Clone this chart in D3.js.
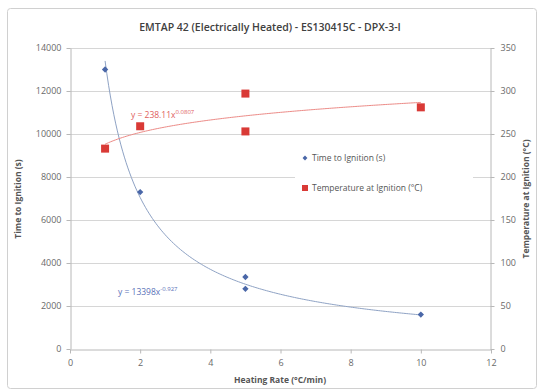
<!DOCTYPE html>
<html>
<head>
<meta charset="utf-8">
<script src="https://cdn.jsdelivr.net/npm/d3@7"></script>
<style>
  html, body { margin: 0; padding: 0; background: #fff; }
  svg { display: block; font-family: "Open Sans", "Liberation Sans", sans-serif; }
</style>
</head>
<body>
<svg id="chart" width="539" height="391"></svg>
<script>
// Heating rate (°C/min) for each test
const heatingRate = [1, 2, 5, 5, 10];
// Time to ignition (s)
const timeToIgnition = [13000, 7300, 3350, 2800, 1600];
// Temperature at ignition (°C)
const tempAtIgnition = [233, 259, 297, 253, 281];

// Power-law trendlines y = a * x^b
const timeFit = { a: 13398, b: -0.927 };
const tempFit = { a: 238.11, b: 0.0807 };

const xTicks = [0, 2, 4, 6, 8, 10, 12];
const leftTicks = [0, 2000, 4000, 6000, 8000, 10000, 12000, 14000];
const rightTicks = [0, 50, 100, 150, 200, 250, 300, 350];

const svg = d3.select("#chart");
const W = 539, H = 391;
const m = { left: 70, right: 48, top: 48, bottom: 42 };

// outer frame
svg.append("rect")
  .attr("x", 7.5).attr("y", 8.5).attr("width", 529).attr("height", 380)
  .attr("rx", 3).attr("fill", "#fff").attr("stroke", "#d0d0d0");

const x = d3.scaleLinear().domain([0, 12]).range([m.left, W - m.right]);
const yL = d3.scaleLinear().domain([0, 14000]).range([H - m.bottom, m.top]);
const yR = d3.scaleLinear().domain([0, 350]).range([H - m.bottom, m.top]);

// horizontal gridlines
svg.append("g").selectAll("line").data(leftTicks.filter(d => d > 0)).join("line")
  .attr("x1", x(0)).attr("x2", x(12))
  .attr("y1", d => yL(d) + 0.5).attr("y2", d => yL(d) + 0.5)
  .attr("stroke", "#d6d6d6");

// axes
const axisColor = "#b8b8b8";
const tickFont = "9px";
const tickColor = "#6a6a6a";
const plain = d3.format("d");

const gx = svg.append("g").attr("transform", `translate(0,${yL(0) + 0.5})`)
  .call(d3.axisBottom(x).tickValues(xTicks).tickFormat(plain).tickSize(4).tickSizeOuter(0));
const gl = svg.append("g").attr("transform", `translate(${x(0) + 0.5},0)`)
  .call(d3.axisLeft(yL).tickValues(leftTicks).tickFormat(plain).tickSize(4).tickSizeOuter(0));
const gr = svg.append("g").attr("transform", `translate(${x(12) - 0.5},0)`)
  .call(d3.axisRight(yR).tickValues(rightTicks).tickFormat(plain).tickSize(4).tickSizeOuter(0));

[gx, gl, gr].forEach(g => {
  g.select(".domain").attr("stroke", axisColor);
  g.selectAll(".tick line").attr("stroke", axisColor);
  g.selectAll(".tick text").attr("fill", tickColor).style("font-size", tickFont)
    .style("font-family", "'Open Sans', 'Liberation Sans', sans-serif");
});
gx.selectAll(".tick text").attr("dy", "1.1em");
gl.selectAll(".tick text").attr("x", -9);
gr.selectAll(".tick text").attr("x", 10);

// trendlines
const curveX = d3.range(1, 10.001, 0.05);
const line = (fit, ys) => d3.line()
  .x(d => x(d))
  .y(d => ys(fit.a * Math.pow(d, fit.b)));

svg.append("path").datum(curveX)
  .attr("d", line(timeFit, yL))
  .attr("fill", "none").attr("stroke", "#8ea2c4").attr("stroke-width", 1);
svg.append("path").datum(curveX)
  .attr("d", line(tempFit, yR))
  .attr("fill", "none").attr("stroke", "#ec8a86").attr("stroke-width", 1);

// legend (white box over gridlines)
const diamond = d3.symbol(d3.symbolSquare, 20)();
const lg = svg.append("g").attr("transform", "translate(295,140)");
lg.append("rect").attr("x", 0).attr("y", 0).attr("width", 178).attr("height", 62).attr("fill", "#fff");
lg.append("path").attr("d", d3.symbol(d3.symbolSquare, 12)())
  .attr("transform", "translate(10,18) rotate(45)").attr("fill", "#4a67a8");
lg.append("text").attr("x", 17).attr("y", 21).text("Time to Ignition (s)")
  .attr("font-size", "8.5px").attr("fill", "#555");
lg.append("rect").attr("x", 7).attr("y", 45).attr("width", 6).attr("height", 6).attr("fill", "#d93a36");
lg.append("text").attr("x", 17).attr("y", 51).text("Temperature at Ignition (°C)")
  .attr("font-size", "8.5px").attr("fill", "#555");

// data points
const pts = heatingRate.map((r, i) => ({ r, t: timeToIgnition[i], T: tempAtIgnition[i] }));
svg.append("g").selectAll("path").data(pts).join("path")
  .attr("d", diamond)
  .attr("transform", d => `translate(${x(d.r)},${yL(d.t)}) rotate(45)`)
  .attr("fill", "#4a67a8");
svg.append("g").selectAll("rect").data(pts).join("rect")
  .attr("x", d => x(d.r) - 4).attr("y", d => yR(d.T) - 4)
  .attr("width", 8).attr("height", 8)
  .attr("fill", "#d93a36");

// trendline equations
const eqR = svg.append("text").attr("x", 131).attr("y", 118)
  .attr("font-size", "8.5px").attr("fill", "#e0605c");
eqR.append("tspan").text(`y = ${tempFit.a}x`);
eqR.append("tspan").attr("dy", -4).attr("font-size", "6px").text(tempFit.b.toFixed(4));

const eqB = svg.append("text").attr("x", 118).attr("y", 295)
  .attr("font-size", "8.5px").attr("fill", "#5a72b8");
eqB.append("tspan").text(`y = ${timeFit.a}x`);
eqB.append("tspan").attr("dy", -4).attr("font-size", "6px").text(timeFit.b.toFixed(3));

// titles
svg.append("text").attr("x", 270).attr("y", 31).attr("text-anchor", "middle")
  .attr("font-size", "10.5px").attr("font-weight", "600").attr("fill", "#404040")
  .text("EMTAP 42 (Electrically Heated)  - ES130415C - DPX-3-I");
svg.append("text").attr("x", 280).attr("y", 383).attr("text-anchor", "middle")
  .attr("font-size", "8.5px").attr("font-weight", "700").attr("fill", "#555")
  .text("Heating Rate (°C/min)");
svg.append("text").attr("transform", "translate(21,199) rotate(-90)").attr("text-anchor", "middle")
  .attr("font-size", "8.5px").attr("font-weight", "700").attr("fill", "#555")
  .text("Time to Ignition (s)");
svg.append("text").attr("transform", "translate(529,199) rotate(-90)").attr("text-anchor", "middle")
  .attr("font-size", "8.5px").attr("font-weight", "700").attr("fill", "#555")
  .text("Temperature at Ignition (°C)");
</script>
</body>
</html>
